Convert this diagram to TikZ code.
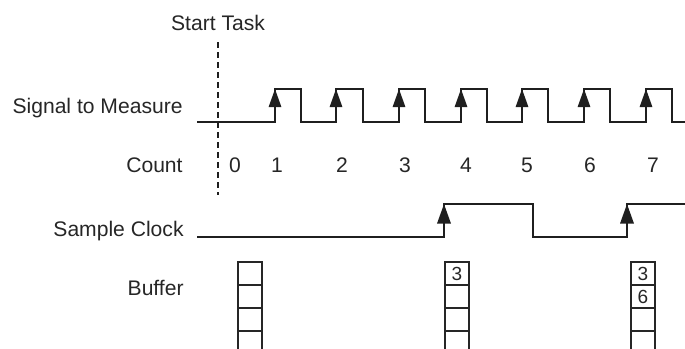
\documentclass[tikz,border=0pt]{standalone}
\usepackage{fontspec}
\setmainfont{Liberation Sans}
\usetikzlibrary{arrows.meta}
\begin{document}
\begin{tikzpicture}[x=0.5pt,y=-0.5pt,
  wave/.style={line width=0.75pt, draw=black!88, line join=miter},
  lbl/.style={anchor=base east, inner sep=0pt, font=\fontsize{10.55}{12}\selectfont, text=black!85},
  num/.style={anchor=base, inner sep=0pt, font=\fontsize{10.55}{12}\selectfont, text=black!85},
  cell/.style={draw=black!85, line width=0.75pt, minimum width=12pt, minimum height=11.5pt, inner sep=0pt},
  celltext/.style={font=\fontsize{9.5}{10}\selectfont, inner sep=0pt, text=black!85},
  sigtip/.style={-{Triangle[length=9pt,width=6.2pt]}, line width=0.75pt, draw=black!88, fill=black},
  clktip/.style={-{Triangle[length=9.8pt,width=6.8pt]}, line width=0.75pt, draw=black!88, fill=black},
  startline/.style={line width=0.75pt, dash pattern=on 3pt off 2pt, draw=black!88},
]
\useasboundingbox (0,0) rectangle (685,348);
\clip (0,0) rectangle (685,348);

% labels
\node[num] (start) at (218,31) {Start Task};
\node[lbl] (lsig) at (183,113) {Signal to Measure};
\node[lbl] (lcnt) at (183,172) {Count};
\node[lbl] (lclk) at (184,236) {Sample Clock};
\node[lbl] (lbuf) at (184,295) {Buffer};

% start task dashed line
\coordinate (dtop) at (218,42);
\coordinate (dbot) at (218,195);
\draw[startline] (dtop) -- (dbot);

% signal to measure
\draw[wave] (197,122) -- (275,122) -- (275,89) -- (301,89) -- (301,122)
  -- (336,122) -- (336,89) -- (363,89) -- (363,122)
  -- (399,122) -- (399,89) -- (425,89) -- (425,122)
  -- (461,122) -- (461,89) -- (487,89) -- (487,122)
  -- (522,122) -- (522,89) -- (548,89) -- (548,122)
  -- (584,122) -- (584,89) -- (610,89) -- (610,122)
  -- (646,122) -- (646,89) -- (672,89) -- (672,122) -- (685,122);
\foreach \x in {275,336,399,461,522,584,646}
  \draw[sigtip] (\x,122) -- (\x,89);

% counts
\node[num] (n0) at (235,172) {0};
\node[num] (n1) at (277,172) {1};
\node[num] (n2) at (342,172) {2};
\node[num] (n3) at (405,172) {3};
\node[num] (n4) at (466,172) {4};
\node[num] (n5) at (527,172) {5};
\node[num] (n6) at (590,172) {6};
\node[num] (n7) at (653,172) {7};

% sample clock
\draw[wave] (197,237) -- (444,237) -- (444,204) -- (533,204) -- (533,237)
  -- (627,237) -- (627,204) -- (685,204);
\foreach \x in {444,627}
  \draw[clktip] (\x,237) -- (\x,204);

% buffers
\foreach \cx/\n in {250/ba,457/bb,643/bc}{
  \node[cell] (\n1) at (\cx,273.5) {};
  \node[cell] (\n2) at (\cx,296.5) {};
  \node[cell] (\n3) at (\cx,319.5) {};
  \node[cell] (\n4) at (\cx,342.5) {};
}
\node[celltext] (bbt1) at (bb1) {3};
\node[celltext] (bct1) at (bc1) {3};
\node[celltext] (bct2) at (bc2) {6};
\end{tikzpicture}
\end{document}
